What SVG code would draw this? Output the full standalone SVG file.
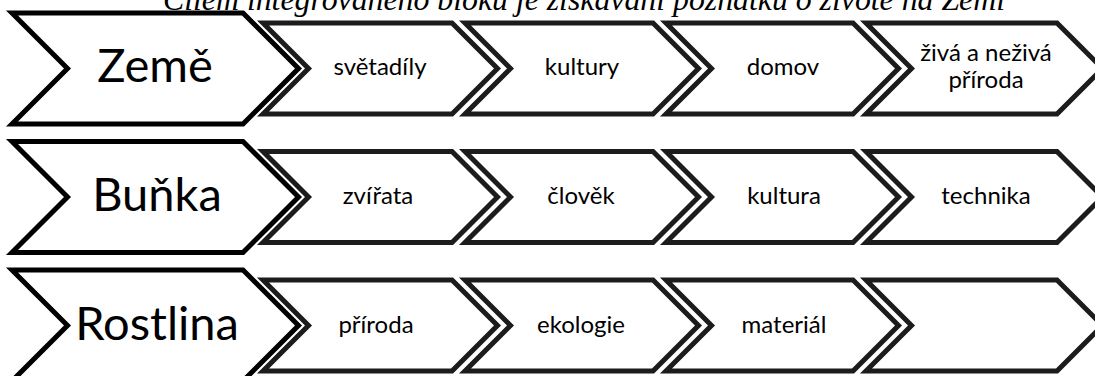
<svg xmlns="http://www.w3.org/2000/svg" width="1095" height="376" viewBox="0 0 1095 376">
<style>
.big{fill:#fff;stroke:#000;stroke-width:5;stroke-linejoin:miter;stroke-miterlimit:10}
.sm{fill:#fff;stroke:#1c1c1c;stroke-width:5;stroke-linejoin:miter;stroke-miterlimit:10}
.bt{font-family:Lato,"Liberation Sans",sans-serif;font-size:47px;fill:#000;text-anchor:middle}
.st{font-family:Lato,"Liberation Sans",sans-serif;font-size:24px;fill:#000;text-anchor:middle}
.title{font-family:"Liberation Serif",serif;font-style:italic;font-size:31px;fill:#000}
</style>
<rect width="1095" height="376" fill="#fff"/>
<text class="title" x="163" y="9.5" textLength="842" lengthAdjust="spacingAndGlyphs">Cílem integrovaného bloku je získávání poznatků o životě na Zemi</text>
<g id="row1">
<g id="zeme"><path class="big" d="M12,13 L243,13 L298.5,68.5 L243,124 L12,124 L67.5,68.5 Z"/><text class="bt" x="155" y="81.5">Země</text></g>
<g id="svetadily"><path class="sm" d="M263,23 L452,23 L497.5,68.5 L452,114 L263,114 L308.5,68.5 Z"/><text class="st" x="380" y="75">světadíly</text></g>
<g id="kultury"><path class="sm" d="M465,23 L653,23 L698.5,68.5 L653,114 L465,114 L510.5,68.5 Z"/><text class="st" x="582" y="75">kultury</text></g>
<g id="domov"><path class="sm" d="M666,23 L853,23 L898.5,68.5 L853,114 L666,114 L711.5,68.5 Z"/><text class="st" x="783" y="75">domov</text></g>
<g id="ziva"><path class="sm" d="M866,23 L1057,23 L1102.5,68.5 L1057,114 L866,114 L911.5,68.5 Z"/><text class="st" x="986" y="61">živá a neživá</text><text class="st" x="986" y="88">příroda</text></g>
</g>
<g id="row2">
<g id="bunka"><path class="big" d="M12,141.5 L243,141.5 L298.5,197 L243,252.5 L12,252.5 L67.5,197 Z"/><text class="bt" x="157" y="210.5">Buňka</text></g>
<g id="zvirata"><path class="sm" d="M263,151.5 L452,151.5 L497.5,197 L452,242.5 L263,242.5 L308.5,197 Z"/><text class="st" x="378" y="203.5">zvířata</text></g>
<g id="clovek"><path class="sm" d="M465,151.5 L653,151.5 L698.5,197 L653,242.5 L465,242.5 L510.5,197 Z"/><text class="st" x="581" y="203.5">člověk</text></g>
<g id="kultura"><path class="sm" d="M666,151.5 L853,151.5 L898.5,197 L853,242.5 L666,242.5 L711.5,197 Z"/><text class="st" x="784" y="203.5">kultura</text></g>
<g id="technika"><path class="sm" d="M866,151.5 L1057,151.5 L1102.5,197 L1057,242.5 L866,242.5 L911.5,197 Z"/><text class="st" x="986" y="203.5">technika</text></g>
</g>
<g id="row3">
<g id="rostlina"><path class="big" d="M12,270 L243,270 L298.5,325.5 L243,381 L12,381 L67.5,325.5 Z"/><text class="bt" x="157" y="339.5">Rostlina</text></g>
<g id="priroda"><path class="sm" d="M263,280 L452,280 L497.5,325.5 L452,371 L263,371 L308.5,325.5 Z"/><text class="st" x="376" y="332.5">příroda</text></g>
<g id="ekologie"><path class="sm" d="M465,280 L653,280 L698.5,325.5 L653,371 L465,371 L510.5,325.5 Z"/><text class="st" x="581" y="332.5">ekologie</text></g>
<g id="material"><path class="sm" d="M666,280 L853,280 L898.5,325.5 L853,371 L666,371 L711.5,325.5 Z"/><text class="st" x="784" y="332.5">materiál</text></g>
<g id="empty"><path class="sm" d="M866,280 L1057,280 L1102.5,325.5 L1057,371 L866,371 L911.5,325.5 Z"/></g>
</g>
<g id="connectors"/>
</svg>
